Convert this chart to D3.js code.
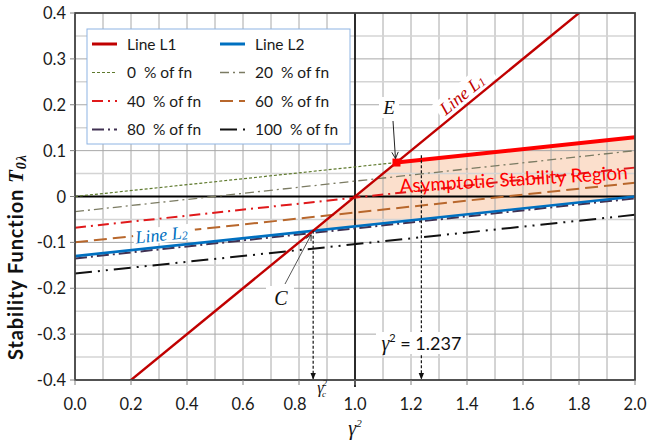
<!DOCTYPE html>
<html><head><meta charset="utf-8">
<script src="https://cdn.jsdelivr.net/npm/d3@7"></script>
<style>body{margin:0;background:#fff} svg{display:block}</style>
</head><body>
<svg id="chart" width="649" height="441"></svg>
<script>
// γ² end points shared by every straight series
const gammaSq = [0, 2];
// stability function T0λ at γ² = 0 and γ² = 2
const lineL1 = [-0.5, 0.5];
const lineL2 = [-0.13, 0.0];
const fnPercent = ['0', '20', '40', '60', '80', '100'];
const fn0 = [0.0, 0.129];
const fn20 = [-0.033, 0.10];
const fn40 = [-0.068, 0.063];
const fn60 = [-0.10, 0.03];
const fn80 = [-0.135, -0.004];
const fn100 = [-0.168, -0.04];
const fnValues = [fn0, fn20, fn40, fn60, fn80, fn100];
const gammaMark = 1.237;
const xTickValues = [0, 0.2, 0.4, 0.6, 0.8, 1.0, 1.2, 1.4, 1.6, 1.8, 2.0];
const xTickLabels = ['0.0','0.2','0.4','0.6','0.8','1.0','1.2','1.4','1.6','1.8','2.0'];
const yTickValues = [0.4, 0.3, 0.2, 0.1, 0, -0.1, -0.2, -0.3, -0.4];
const yTickLabels = ['0.4','0.3','0.2','0.1','0','-0.1','-0.2','-0.3','-0.4'];

const fnStyle = {
  '0':   {color: '#5f7a2e', width: 1.2, dash: '3,2'},
  '20':  {color: '#7b7b63', width: 1.3, dash: '9,4,2,4'},
  '40':  {color: '#e0191b', width: 2,   dash: '11,5,2,5'},
  '60':  {color: '#b8672c', width: 2,   dash: '13,6'},
  '80':  {color: '#403152', width: 2,   dash: '12,4,2,4'},
  '100': {color: '#111111', width: 2,   dash: '17,6,2,6,2,6'}
};

const svg = d3.select('#chart');
const pLeft = 75, pRight = 635, pTop = 13, pBottom = 380;
const x = d3.scaleLinear().domain([0, 2]).range([pLeft, pRight]);
const y = d3.scaleLinear().domain([-0.4, 0.4]).range([pBottom, pTop]);
const sans = 'Lato, "Liberation Sans", sans-serif';
const serif = '"Liberation Serif", "DejaVu Serif", serif';

const valueAt = (vals, g) => vals[0] + (vals[1] - vals[0]) * (g - gammaSq[0]) / (gammaSq[1] - gammaSq[0]);
const slope = vals => (vals[1] - vals[0]) / (gammaSq[1] - gammaSq[0]);
const crossing = (a, b) => {
  const g = gammaSq[0] + (b[0] - a[0]) / (slope(a) - slope(b));
  return [g, valueAt(a, g)];
};
const ptE = crossing(lineL1, fn0);
const ptC = crossing(lineL1, lineL2);

const defs = svg.append('defs');
defs.append('clipPath').attr('id', 'plotClip')
  .append('rect').attr('x', pLeft).attr('y', pTop).attr('width', pRight - pLeft).attr('height', pBottom - pTop);
defs.append('marker').attr('id', 'arrowOpen').attr('viewBox', '0 0 10 10').attr('refX', 9).attr('refY', 5)
  .attr('markerWidth', 8).attr('markerHeight', 8).attr('orient', 'auto')
  .append('path').attr('d', 'M1,1 L9,5 L1,9').attr('fill', 'none').attr('stroke', '#222').attr('stroke-width', 1.2);
defs.append('marker').attr('id', 'arrowFill').attr('viewBox', '0 0 10 10').attr('refX', 9).attr('refY', 5)
  .attr('markerWidth', 6).attr('markerHeight', 6).attr('orient', 'auto')
  .append('path').attr('d', 'M0,1 L10,5 L0,9 Z').attr('fill', '#111');

const line = d3.line().x(d => x(d[0])).y(d => y(d[1]));

// stability region: C → E along L1, E → γ²=2 along the 0 % boundary, back along L2
const regionLayer = svg.append('g').attr('clip-path', 'url(#plotClip)');
const region = [ptC, ptE, [gammaSq[1], fn0[1]], [gammaSq[1], lineL2[1]], ptC];
regionLayer.append('path').attr('d', line(region)).attr('fill', '#fbdcc6').attr('opacity', 0.9);

// grid
const grid = svg.append('g');
d3.range(1, 20).forEach(k => {
  const g = k / 10;
  grid.append('line').attr('x1', x(g)).attr('x2', x(g)).attr('y1', pTop).attr('y2', pBottom)
    .attr('stroke', '#a8a8a8').attr('stroke-width', 1);
});
d3.range(-7, 8).forEach(k => {
  const v = k / 20;
  const major = Math.abs(k) % 2 === 0;
  grid.append('line').attr('x1', pLeft).attr('x2', pRight).attr('y1', y(v)).attr('y2', y(v))
    .attr('stroke', major ? '#a8a8a8' : '#d4d4d4').attr('stroke-width', major ? 1 : 1.4);
});

// axis lines through the origin of the stability function
svg.append('line').attr('x1', x(1)).attr('x2', x(1)).attr('y1', pTop).attr('y2', pBottom + 7)
  .attr('stroke', '#000').attr('stroke-width', 1.6);
svg.append('line').attr('x1', pLeft).attr('x2', pRight).attr('y1', y(0)).attr('y2', y(0))
  .attr('stroke', '#000').attr('stroke-width', 2);

const plot = svg.append('g').attr('clip-path', 'url(#plotClip)');

// % of fn series
fnPercent.forEach((p, i) => {
  const s = fnStyle[p];
  const vals = fnValues[i];
  const pts = gammaSq.map((g, k) => [g, vals[k]]);
  plot.append('path').attr('d', line(pts)).attr('fill', 'none')
    .attr('stroke', s.color).attr('stroke-width', s.width).attr('stroke-dasharray', s.dash);
});

// dashed markers down to the γ² axis
[[ptC[0], ptC[1]], [gammaMark, valueAt(fn0, gammaMark) + 0.01]].forEach(d => {
  svg.append('line').attr('x1', x(d[0])).attr('x2', x(d[0])).attr('y1', y(d[1])).attr('y2', pBottom - 1)
    .attr('stroke', '#111').attr('stroke-width', 1.2).attr('stroke-dasharray', '3,2')
    .attr('marker-end', 'url(#arrowFill)');
});

// white label backgrounds
const bg = svg.append('g');
bg.append('rect').attr('x', 376).attr('y', 332).attr('width', 90).attr('height', 22).attr('fill', '#fff');
bg.append('rect').attr('x', 266).attr('y', 286).attr('width', 28).attr('height', 24).attr('fill', '#fff');
bg.append('rect').attr('x', 379).attr('y', 97).attr('width', 20).attr('height', 21).attr('fill', '#fff');

// L2 label, following the line
const l2Angle = Math.atan2(y(lineL2[1]) - y(lineL2[0]), x(gammaSq[1]) - x(gammaSq[0])) * 180 / Math.PI;
const l2Lab = svg.append('g')
  .attr('transform', `translate(${x(0.22)},${y(valueAt(lineL2, 0.22))}) rotate(${l2Angle})`);
l2Lab.append('rect').attr('x', -2).attr('y', -20).attr('width', 62).attr('height', 16).attr('fill', '#fff');

// L1 label, following the line
const l1Angle = Math.atan2(y(lineL1[1]) - y(lineL1[0]), x(gammaSq[1]) - x(gammaSq[0])) * 180 / Math.PI;
const l1Lab = svg.append('g')
  .attr('transform', `translate(${x(1.335)},${y(valueAt(lineL1, 1.335))}) rotate(${l1Angle})`);
l1Lab.append('rect').attr('x', -4).attr('y', -22).attr('width', 68).attr('height', 20).attr('fill', '#fff');

// main lines
plot.append('path').attr('d', line(gammaSq.map((g, k) => [g, lineL2[k]]))).attr('fill', 'none')
  .attr('stroke', '#0070c0').attr('stroke-width', 2.6);
plot.append('path').attr('d', line(gammaSq.map((g, k) => [g, lineL1[k]]))).attr('fill', 'none')
  .attr('stroke', '#c00000').attr('stroke-width', 2.4);
plot.append('path').attr('d', line([ptE, [gammaSq[1], fn0[1]]])).attr('fill', 'none')
  .attr('stroke', '#ff0000').attr('stroke-width', 4);
svg.append('rect').attr('x', x(ptE[0]) - 4).attr('y', y(ptE[1]) - 4).attr('width', 8).attr('height', 8)
  .attr('fill', '#ff0000');

// line labels
const l1Text = l1Lab.append('text').attr('x', 0).attr('y', -5).attr('font-family', serif)
  .attr('font-style', 'italic').attr('font-size', 18).attr('fill', '#c00000');
l1Text.append('tspan').text('Line L');
l1Text.append('tspan').attr('font-size', 12).attr('dy', 1).text('1');
const l2Text = l2Lab.append('text').attr('x', 0).attr('y', -6).attr('font-family', serif)
  .attr('font-style', 'italic').attr('font-size', 18).attr('fill', '#0070c0');
l2Text.append('tspan').text('Line L');
l2Text.append('tspan').attr('font-size', 12).attr('dy', 1).text('2');

// region label
svg.append('text').attr('transform', 'translate(514,186) rotate(-3.4)').attr('text-anchor', 'middle')
  .attr('font-family', sans).attr('font-size', 19).attr('fill', '#ff0000').text('Asymptotic Stability Region');

// points E and C
svg.append('text').attr('x', 389).attr('y', 114).attr('text-anchor', 'middle').attr('font-family', serif)
  .attr('font-style', 'italic').attr('font-size', 19).attr('fill', '#111').text('E');
svg.append('line').attr('x1', 393).attr('y1', 121).attr('x2', x(ptE[0]) - 1).attr('y2', y(ptE[1]) - 4)
  .attr('stroke', '#222').attr('stroke-width', 1).attr('marker-end', 'url(#arrowOpen)');
svg.append('text').attr('x', 281).attr('y', 305).attr('text-anchor', 'middle').attr('font-family', serif)
  .attr('font-style', 'italic').attr('font-size', 20).attr('fill', '#111').text('C');
svg.append('line').attr('x1', 285).attr('y1', 284).attr('x2', x(ptC[0]) - 2).attr('y2', y(ptC[1]) + 4)
  .attr('stroke', '#444').attr('stroke-width', 0.9).attr('marker-end', 'url(#arrowOpen)');

// γ² = 1.237 note
const markText = svg.append('text').attr('x', x(gammaMark)).attr('y', 350).attr('text-anchor', 'middle')
  .attr('font-family', sans).attr('font-size', 18).attr('fill', '#111');
markText.append('tspan').attr('font-family', serif).attr('font-style', 'italic').attr('font-size', 20).text('γ');
markText.append('tspan').attr('font-size', 11).attr('dy', -8).text('2');
markText.append('tspan').attr('dy', 8).text(' = ' + gammaMark);

// frame and ticks
svg.append('rect').attr('x', pLeft).attr('y', pTop).attr('width', pRight - pLeft).attr('height', pBottom - pTop)
  .attr('fill', 'none').attr('stroke', '#404040').attr('stroke-width', 1.8);
xTickValues.forEach((v, i) => {
  svg.append('line').attr('x1', x(v)).attr('x2', x(v)).attr('y1', pBottom).attr('y2', pBottom + 5)
    .attr('stroke', '#808080');
  svg.append('text').attr('x', x(v) + (v === 0.8 ? -4 : 0)).attr('y', 410).attr('text-anchor', 'middle')
    .attr('font-family', sans).attr('font-size', 16.5).attr('fill', '#1a1a1a').text(xTickLabels[i]);
});
yTickValues.forEach((v, i) => {
  svg.append('line').attr('x1', pLeft - 5).attr('x2', pLeft).attr('y1', y(v)).attr('y2', y(v))
    .attr('stroke', '#808080');
  svg.append('text').attr('x', 66).attr('y', y(v) + 6).attr('text-anchor', 'end')
    .attr('font-family', sans).attr('font-size', 16.5).attr('fill', '#1a1a1a').text(yTickLabels[i]);
});

// γc² label under the axis
const gcText = svg.append('text').attr('x', x(ptC[0]) + 4).attr('y', 393).attr('font-family', serif)
  .attr('font-style', 'italic').attr('font-size', 16).attr('fill', '#111');
gcText.append('tspan').text('γ');
gcText.append('tspan').attr('font-size', 9).attr('dx', -1).attr('dy', -7).text('2');
gcText.append('tspan').attr('font-size', 9).attr('dx', -5).attr('dy', 11).text('c');

// axis titles
const xt = svg.append('text').attr('x', 355).attr('y', 435).attr('text-anchor', 'middle')
  .attr('font-family', serif).attr('font-style', 'italic').attr('font-size', 20).attr('fill', '#111');
xt.append('tspan').text('γ');
xt.append('tspan').attr('font-size', 11).attr('dy', -8).text('2');

const yt = svg.append('text').attr('transform', 'translate(23,360) rotate(-90)').attr('text-anchor', 'start')
  .attr('font-family', sans).attr('font-weight', 'bold').attr('font-size', 20).attr('fill', '#111')
  .attr('letter-spacing', 0.9);
yt.append('tspan').text('Stability Function ');
yt.append('tspan').attr('font-family', serif).attr('font-style', 'italic').attr('font-size', 21).text('T');
yt.append('tspan').attr('font-family', serif).attr('font-style', 'italic').attr('font-size', 14).attr('dy', 3).text('0λ');

// legend
const legend = svg.append('g');
legend.append('rect').attr('x', 87).attr('y', 29).attr('width', 263).attr('height', 115)
  .attr('fill', '#fff').attr('stroke', '#8eb4e3').attr('stroke-width', 1);
const legendItems = [
  {label: 'Line L1', color: '#c00000', width: 3, dash: null},
  {label: 'Line L2', color: '#0070c0', width: 3, dash: null}
].concat(fnPercent.map(p => ({label: p + '  % of fn', color: fnStyle[p].color,
  width: fnStyle[p].width, dash: fnStyle[p].dash})));
legendItems.forEach((d, i) => {
  const col = i % 2, row = Math.floor(i / 2);
  const lx = col === 0 ? 92 : 220;
  const ly = 44 + row * 28.5;
  legend.append('line').attr('x1', lx).attr('x2', lx + 25).attr('y1', ly).attr('y2', ly)
    .attr('stroke', d.color).attr('stroke-width', d.width).attr('stroke-dasharray', d.dash);
  legend.append('text').attr('x', lx + 35).attr('y', ly + 5.5).attr('font-family', sans)
    .attr('font-size', 15.5).attr('fill', '#1a1a1a').style('white-space', 'pre').text(d.label);
});
</script>
</body></html>
